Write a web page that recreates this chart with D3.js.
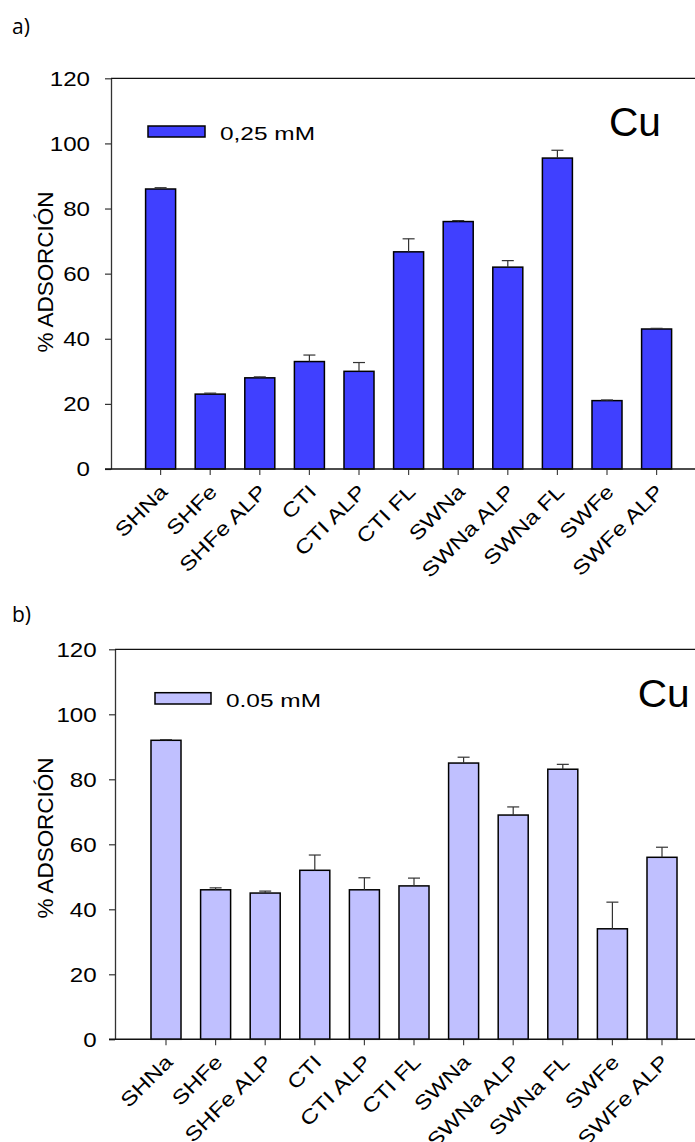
<!DOCTYPE html>
<html>
<head>
<meta charset="utf-8">
<script src="https://cdn.jsdelivr.net/npm/d3@7"></script>
<style>
  body { margin: 0; background: #fff; }
  svg { display: block; }
  text { font-family: "Liberation Sans", Arial, sans-serif; fill: #000; }
  .panel-label { font-family: "Open Sans", "Liberation Sans", sans-serif; }
</style>
</head>
<body>
<svg id="chart" width="695" height="1142"></svg>
<script>
// datos
const categorias = ['SHNa', 'SHFe', 'SHFe ALP', 'CTI', 'CTI ALP', 'CTI FL', 'SWNa', 'SWNa ALP', 'SWNa FL', 'SWFe', 'SWFe ALP'];
const ads025 = [86, 23, 28, 33, 30, 66.7, 76, 62, 95.5, 21, 43];
const err025 = [0.4, 0.3, 0.3, 2, 2.7, 4, 0.3, 2, 2.4, 0.2, 0.2];
const ads005 = [92, 46, 45, 52, 46, 47.2, 85, 69, 83.1, 34, 56];
const err005 = [0.2, 0.6, 0.6, 4.7, 3.7, 2.4, 1.8, 2.5, 1.5, 8.2, 3.1];
const yTicks = [0, 20, 40, 60, 80, 100, 120];

const svg = d3.select('#chart');
const step = 49.6;

// anchos tipo Arial (em) para fijar el largo de los textos, el original esta estirado
const anchoArial = {
    'S': .667, 'H': .722, 'N': .722, 'a': .556, 'F': .611, 'e': .556, 'A': .667, 'L': .556,
    'P': .667, 'C': .722, 'T': .611, 'I': .278, 'W': .944, ' ': .278, ',': .278, '.': .278,
    'm': .833, 'M': .833, '%': .889, 'D': .722, 'O': .778, 'R': .722, 'Ó': .778, 'u': .556
};
function ancho(s, size) {
    return d3.sum(Array.from(s), c => anchoArial[c] ?? .556) * size;
}

function drawPanel(cfg) {
    const g = svg.append('g');

    const y = d3.scaleLinear().domain([0, 120]).range([cfg.bottom, cfg.top]);
    const x = d3.scaleBand()
        .domain(categorias)
        .range([cfg.firstBand, cfg.firstBand + step * categorias.length])
        .paddingInner(0.395)
        .paddingOuter(0.1975);

    // linea superior del marco
    g.append('line')
        .attr('x1', cfg.left).attr('x2', 720)
        .attr('y1', y(120)).attr('y2', y(120))
        .attr('stroke', '#111').attr('stroke-width', 1.3);

    // barras
    g.append('g').selectAll('rect')
        .data(cfg.values)
        .join('rect')
        .attr('x', (d, i) => x(categorias[i]))
        .attr('y', d => y(d))
        .attr('width', x.bandwidth())
        .attr('height', d => y(0) - y(d))
        .attr('fill', cfg.color)
        .attr('stroke', '#000')
        .attr('stroke-width', 1.5);

    // barras de error (solo hacia arriba)
    const eg = g.append('g').attr('stroke', '#333').attr('stroke-width', 1.2);
    cfg.values.forEach((v, i) => {
        const cx = x(categorias[i]) + x.bandwidth() / 2;
        eg.append('line').attr('x1', cx).attr('x2', cx).attr('y1', y(v)).attr('y2', y(v + cfg.errors[i]));
        eg.append('line').attr('x1', cx - 6).attr('x2', cx + 6).attr('y1', y(v + cfg.errors[i])).attr('y2', y(v + cfg.errors[i]));
    });

    // eje Y
    const yAxis = g.append('g')
        .attr('transform', `translate(${cfg.left},0)`)
        .call(d3.axisLeft(y).tickValues(yTicks).tickSize(6).tickSizeOuter(0));
    yAxis.select('.domain').attr('stroke', '#333').attr('stroke-width', 1.3);
    yAxis.selectAll('.tick line').attr('stroke', '#333').attr('stroke-width', 1.2);
    yAxis.selectAll('text')
        .attr('x', -cfg.labelGap)
        .style('font-size', '21px')
        .attr('textLength', d => ancho(String(d), 21) * 1.15)
        .attr('lengthAdjust', 'spacingAndGlyphs');

    // eje X
    const xAxis = g.append('g')
        .attr('transform', `translate(0,${cfg.bottom})`)
        .call(d3.axisBottom(x).tickSize(6).tickSizeOuter(0));
    xAxis.select('.domain').remove();
    xAxis.selectAll('.tick line').attr('stroke', '#444').attr('stroke-width', 1.2);
    xAxis.selectAll('text')
        .attr('y', 0).attr('dy', 0)
        .attr('text-anchor', 'end')
        .attr('transform', 'translate(8,24) rotate(-45)')
        .style('font-size', '20px')
        .attr('textLength', d => ancho(d, 20) * 1.2)
        .attr('lengthAdjust', 'spacingAndGlyphs');
    g.append('line')
        .attr('x1', cfg.left - 6).attr('x2', 720)
        .attr('y1', cfg.bottom).attr('y2', cfg.bottom)
        .attr('stroke', '#111').attr('stroke-width', 1.5);

    // titulo eje Y
    g.append('text')
        .attr('transform', `translate(${cfg.titleX},${cfg.titleY}) rotate(-90)`)
        .attr('text-anchor', 'middle')
        .style('font-size', '22px')
        .attr('textLength', 161)
        .attr('lengthAdjust', 'spacingAndGlyphs')
        .text('% ADSORCIÓN');

    // leyenda
    g.append('rect')
        .attr('x', cfg.legend[0]).attr('y', cfg.legend[1])
        .attr('width', cfg.legend[2]).attr('height', cfg.legend[3])
        .attr('fill', cfg.color).attr('stroke', '#000').attr('stroke-width', 1.5);
    g.append('text')
        .attr('x', cfg.legendText[0]).attr('y', cfg.legendText[1])
        .style('font-size', '19px')
        .attr('textLength', 95)
        .attr('lengthAdjust', 'spacingAndGlyphs')
        .text(cfg.legendLabel);

    // Cu
    g.append('text')
        .attr('x', cfg.cu[0]).attr('y', cfg.cu[1])
        .style('font-size', cfg.cu[2] + 'px')
        .attr('textLength', 52)
        .attr('lengthAdjust', 'spacingAndGlyphs')
        .text('Cu');

    // etiqueta del panel
    g.append('text')
        .attr('class', 'panel-label')
        .attr('x', cfg.label[0]).attr('y', cfg.label[1])
        .style('font-size', '21px')
        .text(cfg.labelText);
}

drawPanel({
    values: ads025, errors: err025, color: '#4040ff',
    left: 111, top: 78.3, bottom: 469, firstBand: 135.8, labelGap: 21,
    titleX: 53, titleY: 272,
    legend: [148, 126, 57, 11], legendText: [220, 139.5], legendLabel: '0,25 mM',
    cu: [609, 136, 40], label: [12, 34], labelText: 'a)'
});

drawPanel({
    values: ads005, errors: err005, color: '#c0c0ff',
    left: 115, top: 649.3, bottom: 1039.3, firstBand: 141.2, labelGap: 18.3,
    titleX: 53, titleY: 838,
    legend: [155, 692.7, 56, 11.3], legendText: [226, 706.5], legendLabel: '0.05 mM',
    cu: [637.7, 707.3, 38], label: [12, 622], labelText: 'b)'
});
</script>
</body>
</html>
